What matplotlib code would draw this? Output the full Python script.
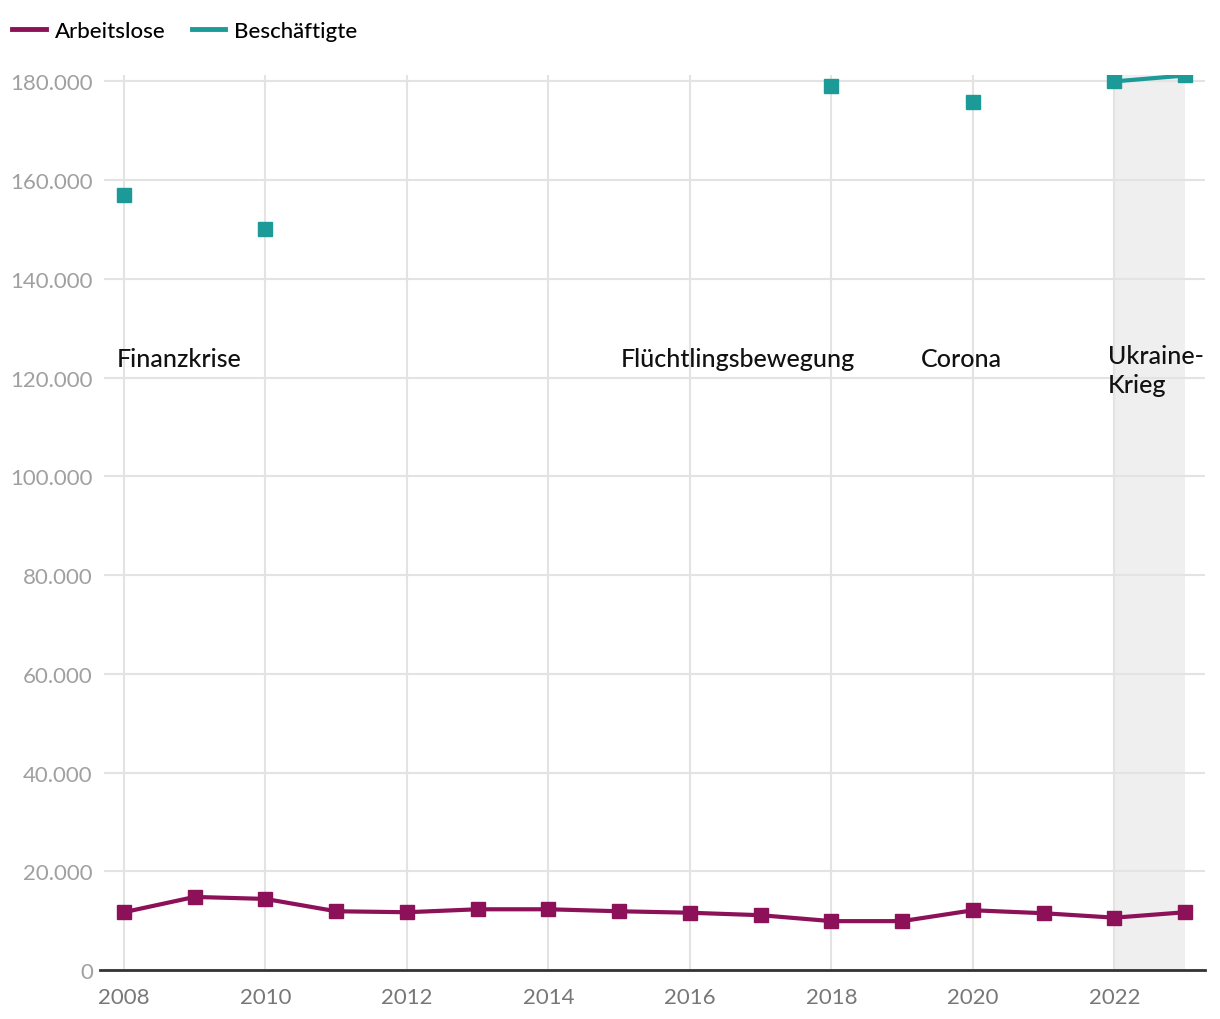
import numpy as np
import matplotlib
matplotlib.use("Agg")
import matplotlib.pyplot as plt
from matplotlib.lines import Line2D
from matplotlib.ticker import FuncFormatter

plt.rcParams['font.family'] = ['Lato', 'DejaVu Sans']

years = list(range(2008, 2024))
arbeitslose = [11700, 14800, 14400, 11900, 11700, 12300, 12300, 11900,
               11600, 11100, 9900, 9900, 12100, 11500, 10600, 11700]
beschaeftigte = [156900, np.nan, 150200, np.nan, np.nan, np.nan, np.nan, np.nan,
                 np.nan, np.nan, 179100, np.nan, 175900, np.nan, 180000, 181200]
events = [(2007.9, "Finanzkrise"), (2015.03, "Flüchtlingsbewegung"),
          (2019.27, "Corona"), (2021.91, "Ukraine-\nKrieg")]
yticks = [0, 20000, 40000, 60000, 80000, 100000, 120000, 140000, 160000, 180000]
xticks = [2008, 2010, 2012, 2014, 2016, 2018, 2020, 2022]

purple = '#8c1159'
teal = '#1b9a98'

fig = plt.figure(figsize=(12.2, 10.2), dpi=100)
ax = fig.add_axes([104/1220, 1 - 971/1020, (1205-104)/1220, (971-76)/1020])

ax.axvspan(2022, 2023, color='#efefef', zorder=0, lw=0)

ax.plot(years, arbeitslose, color=purple, lw=3, marker='s', ms=10, zorder=3)
ax.plot(years, beschaeftigte, color=teal, lw=3, marker='s', ms=10, zorder=3)

ax.set_xlim(2007.72, 2023.28)
ax.set_ylim(0, 181300)
ax.set_yticks(yticks)
ax.set_xticks(xticks)
ax.yaxis.set_major_formatter(FuncFormatter(lambda v, p: "0" if v == 0 else f"{int(v):,}".replace(",", ".")))
ax.grid(True, color='#e3e3e3', lw=1.5, zorder=0)
ax.set_axisbelow(True)
for s in ['top', 'right', 'left']:
    ax.spines[s].set_visible(False)
ax.spines['bottom'].set_color('#333333')
ax.spines['bottom'].set_linewidth(2)
ax.spines['bottom'].set_bounds(2007.66, 2023.28)
ax.tick_params(axis='y', length=0, pad=8, labelsize=16, labelcolor='#a0a0a0')
ax.tick_params(axis='x', length=0, pad=12, labelsize=16, labelcolor='#777777')

for x, t in events:
    if "\n" in t:
        ax.text(x, 121500, t, fontsize=18, color='#111111', va='center', ha='left',
                linespacing=1.3, fontweight='medium')
    else:
        ax.text(x, 123900, t, fontsize=18, color='#111111', va='center', ha='left',
                fontweight='medium')

handles = [Line2D([], [], color=purple, lw=3.5), Line2D([], [], color=teal, lw=3.5)]
fig.legend(handles, ['Arbeitslose', 'Beschäftigte'], loc='upper left',
           bbox_to_anchor=(-0.008, 1.0), ncol=2, frameon=False, fontsize=16,
           prop={'size': 16, 'weight': 'medium'},
           handlelength=1.5, handletextpad=0.4, columnspacing=1.2, borderaxespad=0.6)

fig.savefig('out.png', dpi=100)
